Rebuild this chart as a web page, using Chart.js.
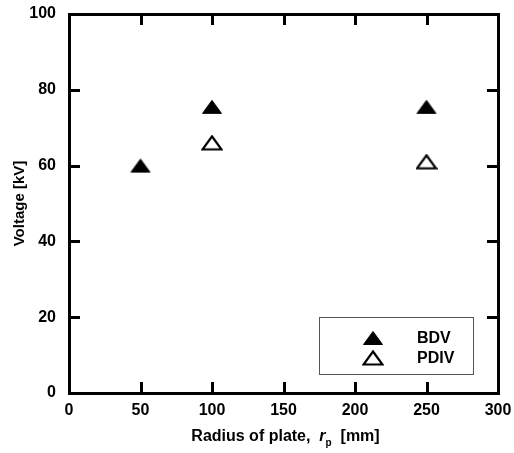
<!DOCTYPE html>
<html lang="en">
<head>
  <meta charset="UTF-8">
  <title>Voltage vs radius of plate</title>
  <script src="https://cdn.jsdelivr.net/npm/chart.js"></script>
  <style>
    body { margin: 0; background: #fff; }
  </style>
</head>
<body>
  <canvas id="graphic" width="514" height="453"></canvas>

  <script>
    // data
    const bdvRadius = [50, 100, 250];
    const bdvVoltage = [60, 75.5, 75.5];
    const pdivRadius = [100, 250];
    const pdivVoltage = [66, 61];
    const seriesNames = ['BDV', 'PDIV'];
    const xRange = [0, 300, 50];   // min, max, step
    const yRange = [0, 100, 20];

    const FONT = "'Liberation Sans', Arial, sans-serif";

    // flat triangle markers like the original plot
    function makeTriangle(filled) {
      const c = document.createElement('canvas');
      c.width = 22;
      c.height = 16;
      const g = c.getContext('2d');
      g.beginPath();
      g.moveTo(11, 1.5);
      g.lineTo(20.5, 14.5);
      g.lineTo(1.5, 14.5);
      g.closePath();
      g.lineJoin = 'miter';
      if (filled) {
        g.fillStyle = '#000';
        g.fill();
        g.lineWidth = 1;
        g.strokeStyle = '#000';
        g.stroke();
      } else {
        g.lineWidth = 2.2;
        g.strokeStyle = '#000';
        g.stroke();
      }
      return c;
    }
    const triFilled = makeTriangle(true);
    const triOpen = makeTriangle(false);

    // frame with inward ticks on all four sides
    const framePlugin = {
      id: 'frame',
      afterDraw(chart) {
        const { ctx, chartArea: a, scales } = chart;
        const tl = 11;
        ctx.save();
        ctx.strokeStyle = '#000';
        ctx.lineWidth = 3;
        ctx.strokeRect(a.left + 0.5, a.top + 0.5, a.right - a.left, a.bottom - a.top);
        ctx.beginPath();
        scales.x.ticks.forEach(t => {
          if (t.value <= xRange[0] || t.value >= xRange[1]) return;
          const px = Math.round(scales.x.getPixelForValue(t.value)) + 0.5;
          ctx.moveTo(px, a.bottom);
          ctx.lineTo(px, a.bottom - tl);
          ctx.moveTo(px, a.top);
          ctx.lineTo(px, a.top + tl);
        });
        scales.y.ticks.forEach(t => {
          if (t.value <= yRange[0] || t.value >= yRange[1]) return;
          const py = Math.round(scales.y.getPixelForValue(t.value)) + 0.5;
          ctx.moveTo(a.left, py);
          ctx.lineTo(a.left + tl, py);
          ctx.moveTo(a.right, py);
          ctx.lineTo(a.right - tl, py);
        });
        ctx.stroke();

        // x axis title with italic r and subscript p
        const parts = [
          { text: 'Radius of plate,  ', font: 'bold 16px ' + FONT, dy: 0 },
          { text: 'r', font: 'italic bold 16px ' + FONT, dy: 0 },
          { text: 'p', font: 'bold 10px ' + FONT, dy: 5 },
          { text: '  [mm]', font: 'bold 16px ' + FONT, dy: 0 }
        ];
        let total = 0;
        parts.forEach(p => { ctx.font = p.font; p.w = ctx.measureText(p.text).width; total += p.w; });
        let x = (a.left + a.right) / 2 + 2 - total / 2;
        const baseY = 441;
        ctx.fillStyle = '#000';
        ctx.textBaseline = 'alphabetic';
        ctx.textAlign = 'left';
        parts.forEach(p => {
          ctx.font = p.font;
          ctx.fillText(p.text, x, baseY + p.dy);
          x += p.w;
        });

        // legend box inside the plot
        const lx = a.right - 179, ly = a.bottom - 76;
        ctx.fillStyle = '#fff';
        ctx.fillRect(lx, ly, 154, 57);
        ctx.strokeStyle = '#555';
        ctx.lineWidth = 1;
        ctx.strokeRect(lx + 0.5, ly + 0.5, 154, 57);
        const markers = [triFilled, triOpen];
        ctx.font = 'bold 16px ' + FONT;
        ctx.textBaseline = 'middle';
        ctx.fillStyle = '#000';
        seriesNames.forEach((name, i) => {
          const my = ly + 21 + i * 20;
          ctx.drawImage(markers[i], lx + 54 - 11, my - 8);
          ctx.fillText(name, lx + 98, my + 1);
        });
        ctx.restore();
      }
    };

    const lienzo = document.getElementById('graphic');
    const grafico = new Chart(lienzo, {
      type: 'scatter',
      data: {
        datasets: [
          {
            label: seriesNames[0],
            data: bdvRadius.map((r, i) => ({ x: r, y: bdvVoltage[i] })),
            pointStyle: triFilled,
            pointRadius: 10,
            showLine: false
          },
          {
            label: seriesNames[1],
            data: pdivRadius.map((r, i) => ({ x: r, y: pdivVoltage[i] })),
            pointStyle: triOpen,
            pointRadius: 10,
            showLine: false
          }
        ]
      },
      options: {
        responsive: false,
        animation: false,
        layout: { padding: { top: 14, right: 16, left: 0, bottom: 0 } },
        plugins: {
          legend: { display: false },
          tooltip: { enabled: false }
        },
        scales: {
          x: {
            type: 'linear',
            min: xRange[0],
            max: xRange[1],
            grid: { display: false, drawTicks: false },
            border: { display: false },
            ticks: {
              stepSize: xRange[2],
              padding: 8,
              color: '#000',
              maxRotation: 0,
              font: { family: FONT, size: 16, weight: 'bold' }
            },
            afterFit(scale) {
              scale.height = 60;
              scale.paddingLeft = 0;
              scale.paddingRight = 0;
            }
          },
          y: {
            min: yRange[0],
            max: yRange[1],
            grid: { display: false, drawTicks: false },
            border: { display: false },
            ticks: {
              stepSize: yRange[2],
              padding: 13,
              color: '#000',
              font: { family: FONT, size: 16, weight: 'bold' }
            },
            title: {
              display: true,
              text: 'Voltage [kV]',
              color: '#000',
              padding: { top: 11, bottom: 0 },
              font: { family: FONT, size: 15, weight: 'bold' }
            },
            afterFit(scale) {
              scale.width = 69;
              scale.paddingTop = 0;
              scale.paddingBottom = 0;
            }
          }
        }
      },
      plugins: [framePlugin]
    });
  </script>
</body>
</html>
